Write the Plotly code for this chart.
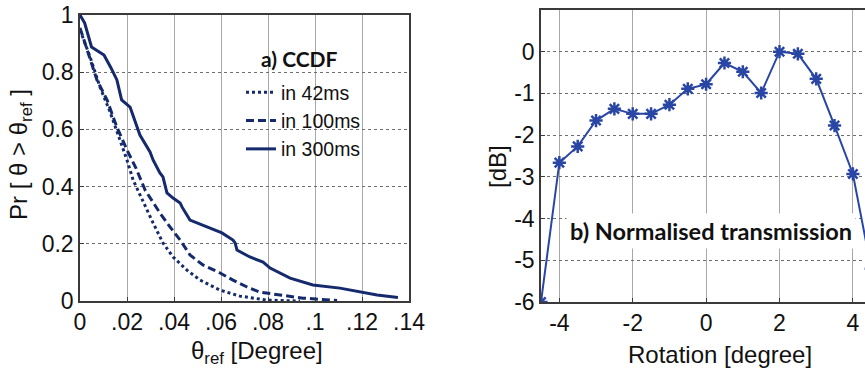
import plotly.graph_objects as go

# ---- Panel a) CCDF data ----
theta_42 = [0, 0.0021, 0.0043, 0.0085, 0.0128, 0.0170, 0.0200, 0.0226, 0.0268, 0.0311,
            0.0353, 0.0396, 0.0455, 0.0511, 0.0596, 0.0681, 0.0796, 0.0936]
pr_42 = [0.948, 0.902, 0.853, 0.748, 0.661, 0.563, 0.493, 0.423, 0.346, 0.273,
         0.203, 0.154, 0.108, 0.073, 0.038, 0.017, 0.003, 0.0]

theta_100 = [0, 0.0021, 0.0047, 0.0072, 0.0115, 0.0157, 0.0200, 0.0238, 0.0277, 0.0311,
             0.0340, 0.0383, 0.0426, 0.0468, 0.0523, 0.0596, 0.0651, 0.0711, 0.0766,
             0.0851, 0.0949, 0.1094]
pr_100 = [0.955, 0.902, 0.836, 0.773, 0.703, 0.608, 0.528, 0.465, 0.388, 0.343,
          0.308, 0.259, 0.213, 0.161, 0.126, 0.098, 0.073, 0.049, 0.031,
          0.021, 0.010, 0.002]

theta_300 = [0, 0.0020, 0.0049, 0.0102, 0.0132, 0.0157, 0.0177, 0.0213, 0.0255, 0.0298,
             0.0311, 0.0340, 0.0353, 0.0370, 0.0396, 0.0426, 0.0434, 0.0468, 0.0511,
             0.0553, 0.0604, 0.0651, 0.0660, 0.0668, 0.0723, 0.0779, 0.0809, 0.0894,
             0.0991, 0.1106, 0.1204, 0.1264, 0.1353]
pr_300 = [1.0, 0.972, 0.888, 0.860, 0.815, 0.773, 0.703, 0.678, 0.580, 0.521,
          0.493, 0.448, 0.434, 0.378, 0.360, 0.343, 0.329, 0.283, 0.269,
          0.255, 0.238, 0.213, 0.203, 0.178, 0.154, 0.136, 0.115, 0.080,
          0.056, 0.045, 0.031, 0.021, 0.012]

x1_tickvals = [0, 0.02, 0.04, 0.06, 0.08, 0.10, 0.12, 0.14]
x1_ticktext = ["0", ".02", ".04", ".06", ".08", ".1", ".12", ".14"]
y1_tickvals = [0, 0.2, 0.4, 0.6, 0.8, 1.0]
y1_ticktext = ["0", "0.2", "0.4", "0.6", "0.8", "1"]

# ---- Panel b) Normalised transmission ----
rotation = [-4.5, -4.0, -3.5, -3.0, -2.5, -2.0, -1.5, -1.0, -0.5, 0.0,
            0.5, 1.0, 1.5, 2.0, 2.5, 3.0, 3.5, 4.0, 4.5]
transmission_db = [-6.0, -2.66, -2.27, -1.65, -1.37, -1.49, -1.49, -1.27, -0.89, -0.78,
                   -0.27, -0.48, -0.99, 0.0, -0.05, -0.65, -1.77, -2.93, -5.2]

x2_tickvals = [-4, -2, 0, 2, 4]
x2_ticktext = ["-4", "-2", "0", "2", "4"]
y2_tickvals = [-6, -5, -4, -3, -2, -1, 0]
y2_ticktext = ["-6", "-5", "-4", "-3", "-2", "-1", "0"]

W, H = 865, 371
NAVY = "#142a6c"
BLUE = "#2a46a5"
SANS = "Liberation Sans, Arial, sans-serif"
TICKFONT = dict(family=SANS, size=23, color="#111")
TITLEFONT = dict(family=SANS, size=24, color="#111")

def px_x(p):
    return p / W

def px_y(p):
    return 1 - p / H

fig = go.Figure()

fig.add_trace(go.Scatter(x=theta_42, y=pr_42, mode="lines", name="in 42ms",
                         line=dict(color=NAVY, width=3, dash="3px,3px"),
                         xaxis="x", yaxis="y"))
fig.add_trace(go.Scatter(x=theta_100, y=pr_100, mode="lines", name="in 100ms",
                         line=dict(color=NAVY, width=3, dash="8px,4px"),
                         xaxis="x", yaxis="y"))
fig.add_trace(go.Scatter(x=theta_300, y=pr_300, mode="lines", name="in 300ms",
                         line=dict(color=NAVY, width=3),
                         xaxis="x", yaxis="y"))
fig.add_trace(go.Scatter(x=rotation, y=transmission_db, mode="lines+markers",
                         showlegend=False,
                         line=dict(color=BLUE, width=2),
                         marker=dict(symbol="asterisk-open", size=11,
                                     line=dict(color=BLUE, width=2.5)),
                         xaxis="x2", yaxis="y2"))

common_axis = dict(showgrid=True, zeroline=False, showline=True,
                   linecolor="#3a3a3a", linewidth=1.5, ticks="inside", ticklen=4,
                   tickcolor="#3a3a3a", tickfont=TICKFONT, automargin=False)

fig.update_layout(
    width=W, height=H,
    margin=dict(l=0, r=0, t=0, b=0),
    paper_bgcolor="white", plot_bgcolor="white",
    xaxis=dict(domain=[px_x(80), px_x(409)], range=[0, 0.14], anchor="y",
               tickvals=x1_tickvals, ticktext=x1_ticktext, mirror=True,
               gridcolor="#a8a8a8", gridwidth=1, **common_axis),
    yaxis=dict(domain=[px_y(301), px_y(15)], range=[0, 1], anchor="x",
               tickvals=y1_tickvals, ticktext=y1_ticktext, mirror=True,
               gridcolor="#6e6e6e", gridwidth=1, griddash="dot", **common_axis),
    xaxis2=dict(domain=[px_x(541), 1.0], range=[-4.5, 4.33], anchor="y2",
                tickvals=x2_tickvals, ticktext=x2_ticktext, mirror=True,
                gridcolor="#a8a8a8", gridwidth=1, **common_axis),
    yaxis2=dict(domain=[px_y(302), px_y(10)], range=[-6, 1], anchor="x2",
                tickvals=y2_tickvals, ticktext=y2_ticktext, mirror=False,
                gridcolor="#6e6e6e", gridwidth=1, griddash="dot", **common_axis),
    showlegend=True,
    legend=dict(x=px_x(241), y=px_y(73), xanchor="left", yanchor="top",
                bgcolor="rgba(0,0,0,0)", borderwidth=0,
                font=dict(family=SANS, size=19.5, color="#111"),
                itemwidth=30, tracegroupgap=0),
    shapes=[dict(type="rect", xref="paper", yref="paper",
                 x0=px_x(230), x1=px_x(393), y0=px_y(170), y1=px_y(32),
                 fillcolor="white", line=dict(width=0), layer="between")],
    annotations=[
        dict(text="<b>a) CCDF</b>", x=px_x(299), y=px_y(58), xref="paper", yref="paper",
             showarrow=False, xanchor="center", yanchor="middle",
             font=dict(family="Lato, Open Sans, sans-serif", size=21, color="#111")),
        dict(text="<b>b) Normalised transmission</b>", x=px_x(711), y=px_y(231),
             xref="paper", yref="paper", showarrow=False, xanchor="center", yanchor="middle",
             font=dict(family="Lato, Open Sans, sans-serif", size=23.5, color="#111"),
             bgcolor="white", borderpad=3),
        dict(text="Pr [ θ > θ<sub>ref</sub> ]", x=px_x(20), y=px_y(155), xref="paper", yref="paper",
             showarrow=False, textangle=-90, xanchor="center", yanchor="middle", font=TITLEFONT),
        dict(text="θ<sub>ref</sub> [Degree]", x=px_x(257), y=px_y(352), xref="paper", yref="paper",
             showarrow=False, xanchor="center", yanchor="middle", font=TITLEFONT),
        dict(text="[dB]", x=px_x(497), y=px_y(167), xref="paper", yref="paper",
             showarrow=False, textangle=-90, xanchor="center", yanchor="middle", font=TITLEFONT),
        dict(text="Rotation [degree]", x=px_x(720), y=px_y(354), xref="paper", yref="paper",
             showarrow=False, xanchor="center", yanchor="middle", font=TITLEFONT),
    ],
)

fig.write_html("out.html", config={"displayModeBar": False},
               post_script="document.body.style.margin='0px';document.body.style.overflow='hidden';")
